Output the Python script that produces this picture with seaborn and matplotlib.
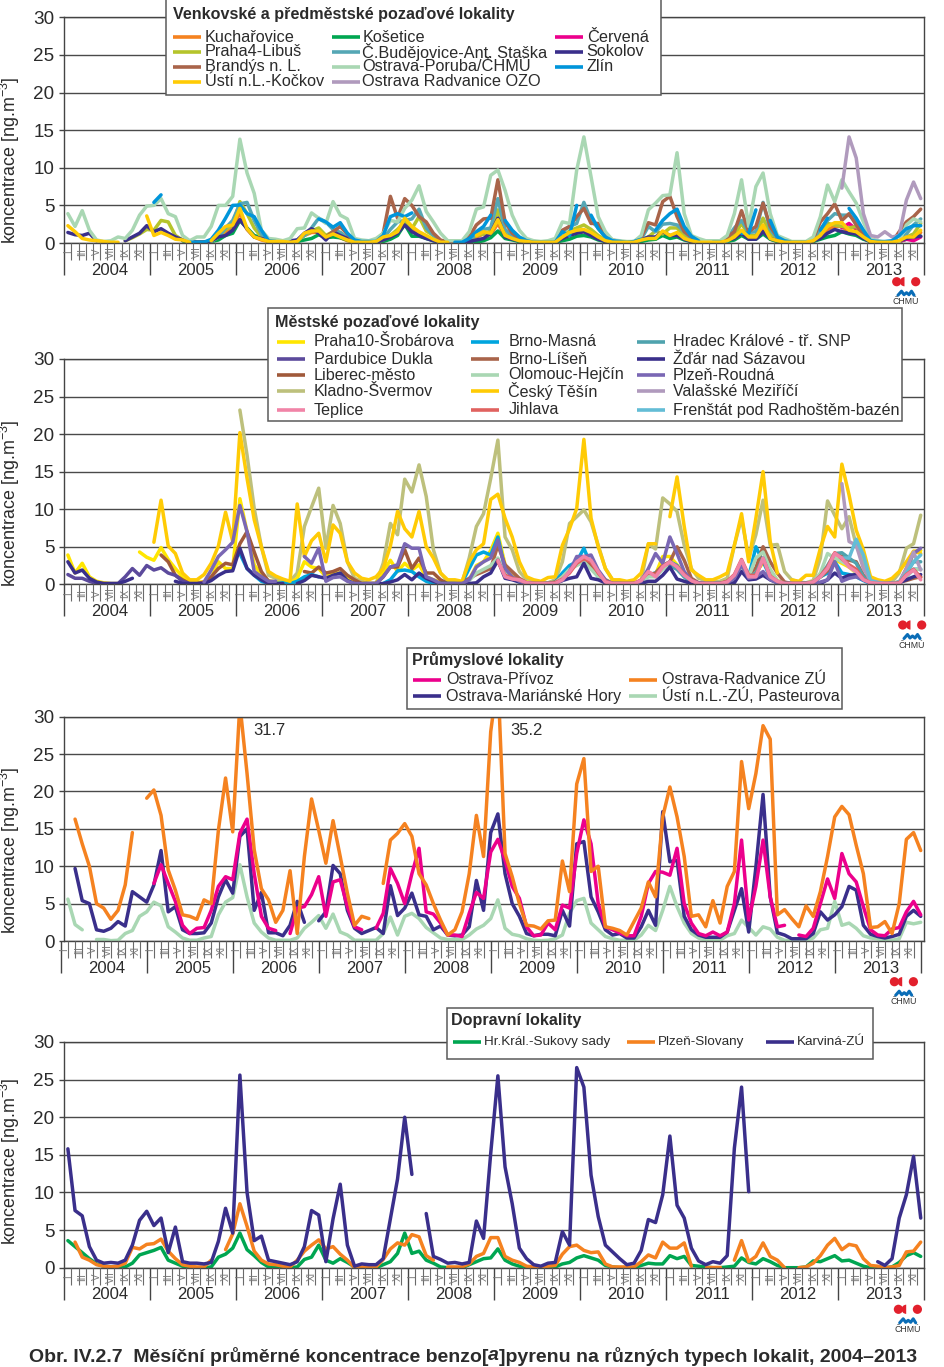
import numpy as np
import pandas as pd
import matplotlib.pyplot as plt
from matplotlib.patches import Rectangle, Circle, Wedge
import seaborn as sns

n = np.nan
no_year = [n] * 12

# ----------------------------- #
# 1. Venkovske a predmestske lokality
# ----------------------------- #
kucharovice = [*no_year,
    n,n,n,n,.3,.1,.1,.1,.3,1,1.5,2,
    4,1.8,.8,.4,.2,.1,.1,.1,.2,1,1.4,1.4,
    .7,1,.7,.3,.1,.1,.1,.1,.6,.8,1.2,3,
    2,1.2,.8,.4,.1,.1,.1,.1,.2,.8,1.2,1.1,
    2.6,.8,.5,.2,.1,.1,.1,.1,.1,.7,1.2,1.4,
    1.5,1.2,.7,.2,.1,.1,.1,.1,.3,.5,.5,1.3,
    .8,1.2,.5,.2,.1,.1,.1,.1,.2,.6,1.4,.6,
    .7,2,.5,.2,.1,.1,.1,.1,.2,.8,1.8,2.2,
    2.2,1.4,1.2,.6,.2,.1,.1,.1,.2,.6,.6,1.4]
kosetice = [*no_year,
    n,n,n,n,.3,.1,.1,.1,.2,.4,1,1.3,
    3,2,1,.7,.2,.1,.1,.1,.2,.4,.6,1.1,
    .7,.8,.7,.4,.1,.1,.1,.1,.2,.5,1,2.5,
    .9,.9,.6,.3,.1,.1,.1,.1,.1,.1,.3,.7,
    1.6,.6,.4,.2,.1,.1,.1,.1,.1,.3,.5,.9,
    1,.8,.4,.2,.1,.1,.1,.1,.2,.4,.5,1,
    .6,.8,.4,.2,.1,.1,.1,.1,.2,.4,1,.5,
    .5,1.2,.5,.2,.1,.1,.1,.1,.2,.5,.8,1,
    1.5,1.2,1,.5,.2,.1,.1,.1,.2,.5,.8,.9]
cervena = [*no_year, *no_year, *no_year, *no_year, *no_year, *no_year,
    *no_year, *no_year, *no_year,
    2,2.6,1.8,1,.3,.1,.1,.1,.2,.5,.3,.8]
praha4 = [n,n,n,n,n,n,n,n,.3,.7,1.2,1.8,
    1.7,3,2.8,1,.4,.2,.1,.1,.2,.8,1.8,2.4,
    5.5,3.9,2,.8,.3,.2,.1,.1,.3,1,1.6,2,
    1,1.5,1.4,.6,.2,.1,.1,.1,.4,1,1.8,2.8,
    1.9,3.5,1.6,1,.3,.1,.1,.1,.3,1,1.2,1.6,
    4.4,1.2,.7,.3,.2,.1,.1,.1,.1,.8,1.6,2,
    2.4,1.8,1,.4,.1,.1,.1,.1,.4,.8,1.6,1.2,
    2,2,1,.4,.2,.1,.1,.1,.4,1,2.6,1,
    1,3.3,1.2,.4,.2,.1,.1,.1,.3,1,2.6,2.4,
    2.2,2,2.2,1,.2,.1,.1,.1,.2,.8,1.2,2.6]
budejovice = [*no_year,
    n,n,n,n,n,n,.1,.1,.2,.8,2,3,
    5.2,5.4,3,1.2,.3,.2,.1,.1,.4,1,2,3.3,
    2.8,1.8,1.4,.7,.2,.1,.1,.1,.6,1.8,2.8,3,
    3.2,4.5,2,1,.3,.1,.1,.1,.4,1.2,1.8,2,
    5.9,1.8,1,.4,.2,.1,.1,.1,.2,1.5,2.2,2.6,
    5.4,3,2,.8,.2,.1,.1,.1,.5,2.2,1.5,2.5,
    2.6,2.4,1.5,.6,.2,.1,.1,.1,.6,2,3,1.4,
    1.5,5.4,1.8,.6,.2,.1,.1,.1,.4,1.8,3,3.9,
    3.7,3.7,2.8,1.4,.3,.1,.1,.1,.3,1.2,2.4,3.2]
sokolov = [1.4,1.1,1,1.3,.3,n,n,n,.3,.8,1.3,2.3,
    1.5,1.9,1.3,.8,.4,.2,.1,.1,.3,.8,1,1.7,
    3.1,1.9,.8,.6,.3,.2,.1,.3,.4,1.3,1.9,1.3,
    .4,1.5,1,.6,.2,.1,.1,.1,.4,.8,1.3,2.4,
    1.5,1,.6,.3,.1,.1,.1,.1,.2,.4,.6,1.3,
    3.3,.8,.5,.3,.2,.1,.1,.1,.1,.6,1,1.3,
    1.5,1,.5,.2,.1,.1,.1,.1,.4,.8,.8,1.5,
    1,1,.5,.2,.1,.1,.1,.1,.4,.6,1.3,.5,
    .5,1.5,.6,.3,.1,.1,.1,.1,.3,.6,1.3,1.8,
    1.5,1.3,1.2,.6,.2,.1,.1,.1,.3,.6,.8,.9]
brandys = [*no_year, *no_year, *no_year,
    .8,1.5,2.2,1.2,.2,.1,.1,.2,1.3,6.2,3.3,5.9,
    5,3.5,2.8,1.3,.4,.1,.1,.2,.8,2.4,3.2,3.3,
    8.4,2.8,1.3,.6,.3,.2,.1,.1,.3,1.7,2.2,3.5,
    4.6,2.6,2.6,1,.4,.2,.1,.1,.8,2.7,2.4,5.5,
    6.2,3.5,1.5,.8,.4,.2,.1,.1,.8,1.5,4.3,1.5,
    2.2,5.3,2.2,.8,.3,.1,.1,.1,.6,2.8,3.9,5.2,
    3,3.9,2.4,1,.2,.1,.1,.1,1.5,2.8,3.5,4.5]
poruba = [3.9,2.2,4.3,1.7,.4,.2,.3,.8,.6,1.7,3.7,4.9,
    5,5.9,3.9,3.5,1,.3,.8,.8,2.2,5,5,6.2,
    13.8,9.3,6.6,1.7,.6,.5,.3,.6,1.9,2,4,3.3,
    2.6,5.5,3.7,3.2,.6,.4,.3,.6,1.3,3,2.8,4.6,
    5.7,7.6,4.2,2.8,1.3,.3,.3,.3,1.5,4.5,4.8,9,
    9.7,7,3.7,1.7,.6,.3,.2,.3,.6,2.8,2.6,9.7,
    14.1,8.8,3.5,1.5,.4,.3,.2,.2,1,4.4,5.3,6.3,
    6.4,12,3.9,1,.6,.3,.3,.3,1,3.9,8.4,2.2,
    7.5,9.3,3.9,1,.6,.2,.2,.2,.8,3.5,7.7,5.5,
    8.4,6.8,5.3,2.8,.6,.3,.1,.1,.2,2.4,3.2,2.8]
zlin = [*no_year,
    5.4,6.4,n,n,n,.1,.1,.1,.5,1.7,3.3,5,
    5.05,3.9,3.5,1.7,.3,.2,n,n,n,n,n,3.2,
    2.8,2.1,2.7,1.3,.4,.2,.2,.2,1,3.5,3.9,3.5,
    4,n,n,n,n,n,.1,.1,.6,1.5,2.2,3.7,
    n,3,1.7,.8,.3,.1,.1,.1,.1,1.5,1,5,
    n,3.7,1.9,.8,.3,.2,.1,.2,.5,n,1.7,3,
    3.9,4.5,2.2,.9,.3,n,.1,.1,.2,n,1.3,1.3,
    4.4,n,3,.8,.3,.1,.1,.1,n,1.7,3.3,n,
    n,4.6,3.3,1.7,.3,.2,.2,.3,1,1.9,2.3,2.3]
usti_kockov = [2.3,1.5,.6,.4,.3,.2,.1,.1,n,n,n,3.6,
    1,1.4,1,.5,.4,.1,n,n,.3,1.3,2.2,2.4,
    4.6,1.9,.8,.5,.2,.2,.2,.1,.2,1.3,1.6,1.6,
    .8,1.2,.8,.4,.1,.1,.1,.2,.8,1,1.5,3.3,
    2.2,1.5,1,.5,.1,.1,n,n,n,1,1.5,1.3,
    3.1,1,.6,.3,.2,.1,.1,.1,.1,.8,1.4,1.7,
    1.8,1.4,.8,.3,.1,.1,.1,.1,.4,.6,.6,1.6,
    1,1.4,.6,.3,.1,.1,.1,.1,.3,.8,1.7,.8,
    .8,2.4,.6,.3,.1,.1,.1,.1,.3,1,2.2,2.7,
    2.7,1.7,1.5,.8,.2,.1,.1,.1,.3,.8,.8,1.7]
radvanice_ozo = [*no_year, *no_year, *no_year, *no_year, *no_year, *no_year,
    *no_year, *no_year, *no_year,
    7.3,14.1,11.3,3.9,1,.8,1.5,.8,1,5.7,8.1,5.9]

# ----------------------------- #
# 2. Mestske lokality
# ----------------------------- #
praha10 = [3.9,1.5,2.8,1,.4,.2,.1,.1,n,n,4.3,3.6,
    3.2,4.9,3.3,2.1,1,.5,.3,.3,.8,3,2.1,2.1,
    11.4,7,2.6,1.2,.5,.3,.2,.2,.8,3,2.3,2.1,
    1,1.5,1.5,.8,.3,.2,.1,.1,1.7,3.2,1.7,2.8,
    1.9,2.6,1,.6,.3,.1,.1,.1,.6,2.5,3,4.5,
    6.8,2.6,1.2,.6,.3,.1,.1,.1,.3,1,2,3,
    3.5,3,1.5,.6,.2,.1,.1,.1,.4,1.5,1.3,3.7,
    3.7,2.6,1.3,.5,.2,.1,.1,.1,.3,1,2.8,1,
    1.5,2.9,1.9,.5,.1,.1,.1,.1,.3,1,1.6,3.3,
    2.8,2.3,1.5,.8,.2,.1,.1,.1,.3,1.5,4.4,4.5]
pardubice = [1.3,.8,.8,.4,.1,.1,.1,.1,1,2.1,1.2,2.5,
    1.9,2.2,1.5,1.2,.4,.1,.1,.1,n,n,n,n,
    *no_year, *no_year, *no_year, *no_year, *no_year, *no_year, *no_year, *no_year]
liberec = [*no_year,
    n,3.9,3,1.2,.6,.1,.1,.3,1,2.1,2.8,2.6,
    5.4,7,4.3,1.7,.4,.2,n,n,n,1.7,1.5,2.3,
    1.5,1.7,2.1,1.2,.6,.1,.1,.1,1,2.3,2.3,4.6,
    2.1,3.5,1.5,1.5,.6,.1,.1,.1,n,n,n,n,
    *no_year, *no_year, *no_year, *no_year, *no_year]
kladno = [*no_year, *no_year,
    23.2,17.2,10.1,5,1.2,.8,.4,.4,1.5,7.7,10.3,12.8,
    4.8,10.5,8.1,3,.8,.4,.1,.1,2.8,8.1,6.6,14,
    12.3,15.9,11.7,4.6,1.5,.4,.2,.2,3.5,7.7,9.4,14.1,
    19.2,6.3,4.6,1.7,.6,.3,.2,.2,.6,3,8.1,9,
    9.9,8.3,5.2,2.1,.6,.3,.2,.2,.5,5.4,4.7,11.5,
    10.7,9.7,5.2,2.1,.8,.5,.3,.4,.8,5.2,8.8,3.5,
    6.6,11.2,5.2,5.3,1.7,.6,.3,.2,.5,3.5,11.1,9.2,
    7.4,9,5.2,3,.8,.5,.3,.3,1.5,4.8,5.4,9.2]
teplice = [*no_year, *no_year, *no_year, *no_year, *no_year,
    3.2,1,.7,.6,.2,.1,.1,.1,.1,.6,1.7,3,
    3.7,3.2,1.7,.3,.1,.1,.1,.1,.5,1.7,1,2.3,
    3,2.3,1.2,.5,.1,.1,.1,.1,.3,1.2,3.2,1,
    1,3.5,1,.4,.1,.1,.1,.1,.3,1,2.1,4.1,
    3.5,2.3,1.7,.6,.2,.1,.1,.1,.1,1.2,1.9,.6]
brno_masna = [*no_year, *no_year,
    4.1,2.1,1.2,.4,.1,.1,.2,.1,.4,1,1.3,1,
    n,n,n,n,n,n,n,n,.1,.6,1.8,1.9,
    1.7,1,.4,.1,.1,.1,.1,.2,2.1,3.9,4.3,3.9,
    6.3,2,.8,.3,.1,.1,.1,.1,.3,1.5,2.5,3,
    4.8,2.5,1,.3,.1,.1,.1,.1,.3,1.3,1.5,2.4,
    3,2.5,1,.3,.1,.1,.1,.1,.3,1,2.8,1,
    5,3,1,.3,.1,.1,.1,.1,.2,1,1.5,3,
    1.5,1.3,1,.5,.1,.1,.1,.1,.3,1,2,2]
brno_lisen = [*no_year, *no_year, *no_year, *no_year,
    n,n,n,n,n,n,n,.2,.8,1.3,1.7,2.1,
    5.2,2.6,1.7,.8,.2,.1,.1,.1,.3,1,1.8,3,
    3.5,2.5,1.5,.5,.1,.1,.1,.1,.4,1.2,1.5,2.5,
    3,5,3.2,.8,.2,.1,.1,.1,.4,1,2.6,1.2,
    2.2,5,3,1.5,.3,.1,.1,.1,.3,1,1.8,4.1,
    3.7,3.2,3,1.2,.3,.1,.1,.1,.3,.5,.8,1]
olomouc = [*no_year, *no_year, *no_year, *no_year,
    n,n,n,n,n,n,n,n,.5,1.5,2,2.5,
    3.5,1.5,.8,.3,.1,.1,.1,.1,.2,1,2,2.5,
    3,2,1,.3,.1,.1,.1,.1,.3,1,1,2,
    2.5,2,1,.3,.1,.1,.1,.1,.2,.8,2,1,
    3.5,4.3,2,.5,.1,.1,.1,.1,.3,1.5,4.1,3.5,
    3,2.5,1.5,.8,.2,.1,.1,.1,.2,1,2,2]
tesin = [*no_year,
    5.6,11.2,5.1,4.1,1.5,.6,.6,1.3,2.8,5.1,9.6,5.7,
    20.2,14.1,8.6,5,1.7,1.1,.7,.4,10.7,3.7,5.8,6.8,
    3,7.9,6.8,3,1.5,.8,.6,1,2.1,5.1,9.7,7.4,
    6.3,9.7,5,3.5,1.5,.6,.6,.4,3,4.6,5.4,11.3,
    12,8.8,6.3,3,1,.6,.4,.9,1,5.2,7.4,10.1,
    19.3,8.8,5,2.1,.6,.6,.4,.6,1.5,5.4,5.4,n,
    9,14.3,7.7,1.9,1.2,.6,.6,1,1.5,5.2,9.4,3,
    8.8,15,5.7,1.5,n,.6,.4,1.2,1.2,4.8,7.7,6.3,
    16,11.9,7.2,4.6,1,.6,.4,.8,1.7,3,4.4,4.1]
jihlava = [*no_year, *no_year, *no_year, *no_year, *no_year,
    3,1.2,.8,.6,.2,.1,.1,.1,.2,.7,1.5,2.8,
    3.4,3,1.5,.4,.1,.1,.1,.1,.6,1.6,1.2,2.4,
    2.9,2.4,1.3,.5,.1,.1,.1,.1,.4,1.3,3.3,1.2,
    1.2,3.3,1.1,.4,.1,.1,.1,.1,.3,1.1,2.3,4.2,
    3.4,2.6,2,.7,.2,.1,.1,.1,.2,1.3,2,.9]
hradec = [*no_year, *no_year, *no_year, *no_year, *no_year, *no_year, *no_year,
    2.5,2,1,.3,.1,.1,.1,.1,.3,1,2.8,1,
    1.5,3.5,1,.3,.1,.1,.1,.1,.3,1,2.5,4.1,
    4.2,3.5,2.8,1,.2,.1,.1,.1,.2,1.5,3,3]
zdar = [3,1.5,1.9,.8,.3,.1,.1,.1,.4,.8,n,n,
    n,n,n,.4,.1,.1,.1,.1,.5,1.2,1.7,1.8,
    4.8,2.1,1.2,.6,.1,.1,.1,n,.1,.5,1.2,1,
    .8,1.2,1.5,.5,.1,.1,.1,.1,.1,.3,.6,1.3,
    .6,1.5,.8,.4,.1,.1,.1,.1,.1,.2,1,1.5,
    3.2,.8,.6,.3,.1,.1,.1,.1,.1,.5,.8,1,
    2.8,.8,.6,.2,.1,.1,.1,.1,.1,.4,.4,1.2,
    2.3,.7,.4,.1,.1,.1,.1,.1,.1,.2,1.7,.6,
    .7,1.2,.6,.2,.1,.1,.1,.1,.1,.1,.6,1.5,
    .8,1.2,1.3,.6,.2,.1,.1,.1,.2,.6,1,1.3]
plzen_roudna = [*no_year,
    n,n,n,n,n,n,n,.3,1.9,3.7,4.6,5.6,
    10.5,7,1.7,1,.4,.4,n,n,n,3.7,2.8,4.8,
    .4,.9,1,.4,.1,.1,.1,.1,1,2.3,2.6,5.4,
    4.8,4.8,1,.6,.1,.1,.1,.1,.6,2.3,3,3.5,
    5.9,2.1,1,.4,.1,.1,.1,.1,.2,.5,1.7,3.7,
    3.7,3.9,1.9,.6,.1,.1,.1,.1,.4,2.1,4.1,2.8,
    6.3,4.1,1.7,.5,.2,.1,.1,.1,.2,.8,2.6,.8,
    1,1.7,.6,.2,.1,.1,.1,.1,.1,.3,.6,3,
    .4,.8,1,.6,.2,.1,.1,.1,.2,2.1,4.1,4.8]
valasske = [*no_year, *no_year, *no_year, *no_year, *no_year, *no_year,
    *no_year, *no_year, *no_year,
    13.4,5.7,5.2,2.1,.5,.3,.1,.1,.3,2.1,4.3,1.9]
frenstat = [*no_year, *no_year, *no_year, *no_year, *no_year, *no_year,
    *no_year, *no_year, *no_year,
    3.5,3.5,6,3.9,.5,.2,.1,.1,.3,1.5,3,3.9]

# ----------------------------- #
# 3. Prumyslove lokality
# ----------------------------- #
privoz = [*no_year,
    7.7,10.2,7.7,5.3,2.1,1,1.7,1.8,4.1,7.3,8.6,8.2,
    14.4,16.3,9,3.3,1.7,1.4,n,1,4.4,4.6,6.2,8.6,
    3.3,7.9,8.2,4.6,1.9,1.5,n,1.7,3.7,9.7,7.7,5,
    9,12.4,3.9,3.6,2.4,.8,.8,.6,3.7,6.5,5.7,11.9,
    13.6,10.8,7.3,5.7,1.9,.7,.8,2.4,1.5,4.8,4.4,11.7,
    16.2,13,5,1.9,1.5,1.1,.7,.7,3.3,7.7,9.3,9.2,
    8.8,12.4,5,2.4,1,.7,1.2,.7,1.2,5,13.5,2.8,
    7.3,13.5,5.9,1.9,2.1,n,.8,.6,1.7,5,8.3,5.7,
    11.7,9,7.9,4.6,1.5,.8,.7,1.6,1.8,3.9,5.3,3.5]
marianske = [n,9.7,5.4,5,1.5,1.3,1.7,2.6,2,6.6,5.9,5.2,
    7.5,12.1,3.9,4.6,1.5,1,1,1.1,2.4,5.9,8.2,6.4,
    14,15,4.1,6.5,1.1,1.1,.7,2.1,5.3,2.5,n,2.7,
    3.9,10.1,9,4.1,1.7,1,1.4,1.8,1,7.4,3.4,4.4,
    6.4,3.5,3.3,1.5,2,.8,.7,.8,1.9,8.1,4.1,14.5,
    17,9,5,3.3,1,.7,.9,.9,.7,4.1,2,13,
    13.3,5.9,3.9,1.5,.8,1,.4,.4,1.9,4.1,2.1,17.3,
    10.6,10.8,3.3,1.5,.8,.5,.5,.5,1.2,4.1,7,1.2,
    9.9,19.6,5.9,1.1,.8,.3,.3,.3,1,3.9,2.8,3.5,
    4.6,7.3,6.8,2.1,.9,.6,.4,.6,.9,3.3,4.1,3.3]
radvanice_zu = [n,16.3,13,10,5,4.4,2.9,4.1,7.5,14.5,n,19.1,
    20.2,16.8,9.5,6.8,3.5,3.3,2.9,5.5,5,14.8,21.8,14.6,
    31.7,22.4,12.2,7,5.5,2.5,4.1,9.4,1,11.3,19,14.8,
    10.4,16.1,11.3,6.4,2.1,3.3,3,n,7.7,13.5,14.4,15.7,
    14,9,7.5,5,2.8,.8,1.5,3.9,9,16.8,11.3,28,
    35.2,11.7,8.6,5,2.1,2,1.6,2.7,2.8,10.7,6.6,21,
    24.4,9.3,10,1.9,1.7,1.4,.8,2.6,4.4,7.9,5.9,16.6,
    20.6,16.6,11.3,3.3,3.5,1.9,5.4,2.4,7.3,9.3,24,17.7,
    22.4,28.8,27,3.5,4.2,3,1.9,4.7,3.3,6.6,11.3,16.6,
    18,16.9,12.8,9,1.8,1.9,2.6,1,5,13.6,14.5,12.1]
usti_zu = [5.6,2.2,1.5,n,.2,.2,.05,.1,1,1.4,3.3,3.9,
    5.2,4.7,1.9,1.2,.4,.1,.1,.4,.6,3.5,5.2,5.8,
    10.2,5.9,2.4,1.2,.4,.1,.1,.1,.4,1.7,2.5,3.4,
    1.7,3.6,1.2,.8,.1,.1,.1,.1,1,3.2,.8,3.3,
    3.7,3,1.8,1.1,.4,.2,.2,.2,.8,1.6,2.1,3,
    5.5,1.7,.9,.7,.3,.1,.05,.1,.3,.8,3.7,5.4,
    5.7,2.4,1.5,.6,.3,.1,.1,.1,.8,2.1,1.4,4.1,
    7.3,4.6,2.4,1,.4,.1,.1,.1,.7,1,2.8,1.8,
    .8,1.9,1.6,.5,.1,.05,.05,.05,.4,1.5,1.7,5.3,
    2.1,2.4,1.7,.7,.4,.3,.1,.1,.3,2.5,2.3,2.5]

# ----------------------------- #
# 4. Dopravni lokality
# ----------------------------- #
sukovy_sady = [3.6,2.8,2,1.2,.5,.2,.1,.1,.1,.6,1.7,2,
    2.3,2.7,1,.6,.2,0,0,0,.1,1.4,1.8,2.6,
    4.6,2.4,1.6,.7,.1,.1,0,0,.1,1.1,1.4,3,
    1,.6,1.2,.7,.1,0,0,0,.4,.8,1.9,4.6,
    1.9,2.2,1,.6,.1,0,0,0,.4,.8,1.2,1.3,
    2.5,1,.5,.2,.1,0,0,0,.1,.5,.7,1.3,
    1.6,1.3,1,.3,.1,0,0,0,.3,.6,.5,.5,
    1.6,1.2,1.5,.3,.2,.1,0,0,.1,.2,1.3,.7,
    .5,1.2,.8,.3,0,0,0,.1,.9,.8,1.2,1.6,
    .9,1,.6,.2,0,0,0,.1,.7,1.6,2,1.5]
plzen_slovany = [n,3.4,1.4,1,.4,.2,.1,.2,.6,2.7,2.5,3.1,
    3.2,3.8,2.2,1.2,.4,.2,.1,.1,1,n,2.4,4.5,
    8.5,5.5,2.2,1,.5,.4,.2,.1,1,2.2,3,3.7,
    2.5,2.8,1.8,1,0,.1,0,.1,1.1,2.5,3.3,3,
    4.4,4.1,1.6,1,n,.1,.1,.1,.5,1.5,1.9,4,
    4,1.5,1,.7,.2,.1,0,.2,.3,1.8,2.8,3,
    2.3,2,2.1,.5,.1,.1,.1,.1,.8,1.7,1.3,3.4,
    2.6,2.6,3.3,.2,n,.1,.1,.1,n,1,3.6,.8,
    1.5,3.3,1.5,1,0,n,0,.1,.6,1.6,3,3.9,
    2.4,3.1,2.9,1.2,.3,.2,0,.1,.3,2.1,2.2,3.4]
karvina = [15.8,7.6,6.9,2.8,1,.6,.7,.6,1,3,6.3,7.5,
    5.6,6.6,2,5.4,.8,.6,.6,.5,.7,3.5,7.9,4.6,
    25.6,10,3.6,4.2,1,.8,.6,.4,.8,2.8,7.6,7,
    .8,6.5,11.1,3,.2,.5,.4,.4,1.2,6.5,11.8,20,
    12.4,n,7.2,1.5,1.1,.6,.7,.5,.7,6.2,3.9,15.2,
    25.5,13.4,8.5,2.6,1.2,.4,.2,.6,.7,4.8,3,26.6,
    24,12.3,6.8,3,2.1,1.2,.4,.6,2.3,6.4,6,9.7,
    17.5,8.3,6.6,2.6,.9,.4,.8,.6,1.6,15.9,24,10.1,
    *no_year,
    n,n,n,n,n,.8,.3,1.2,6.6,9.7,14.8,6.6]

years = [2004, 2005, 2006, 2007, 2008, 2009, 2010, 2011, 2012, 2013]
roman = ["I", "III", "V", "VII", "IX", "XI"]

ORANGE = "#F58220"
GREEN = "#00A651"
PINK = "#EC008C"
OLIVE = "#B5C42B"
TEAL = "#55A7B5"
NAVY = "#3A2F8B"
BROWN = "#A9644A"
MINT = "#A9D7B3"
BLUE = "#0095DA"
GOLD = "#FFCB05"
MAUVE = "#B09ABD"

# name, values, colour; order of the list = draw order
rural = [("Kuchařovice", kucharovice, ORANGE), ("Košetice", kosetice, GREEN),
         ("Červená", cervena, PINK), ("Praha4-Libuš", praha4, OLIVE),
         ("Č.Budějovice-Ant. Staška", budejovice, TEAL), ("Sokolov", sokolov, NAVY),
         ("Brandýs n. L.", brandys, BROWN), ("Ostrava-Poruba/ČHMÚ", poruba, MINT),
         ("Ostrava Radvanice OZO", radvanice_ozo, MAUVE), ("Zlín", zlin, BLUE),
         ("Ústí n.L.-Kočkov", usti_kockov, GOLD)]
urban = [("Kladno-Švermov", kladno, "#BDC07C"), ("Praha10-Šrobárova", praha10, "#FFE600"),
         ("Liberec-město", liberec, "#A0593A"), ("Pardubice Dukla", pardubice, "#5C4A9C"),
         ("Brno-Masná", brno_masna, "#00A5DE"), ("Brno-Líšeň", brno_lisen, "#A9644A"),
         ("Olomouc-Hejčín", olomouc, MINT), ("Hradec Králové - tř. SNP", hradec, "#4FA3AE"),
         ("Český Těšín", tesin, GOLD), ("Žďár nad Sázavou", zdar, NAVY),
         ("Plzeň-Roudná", plzen_roudna, "#7A67B4"), ("Valašské Meziříčí", valasske, MAUVE),
         ("Frenštát pod Radhoštěm-bazén", frenstat, "#63BDD6"), ("Jihlava", jihlava, "#E0625F"),
         ("Teplice", teplice, "#F184A7")]
industrial = [("Ústí n.L.-ZÚ, Pasteurova", usti_zu, MINT), ("Ostrava-Mariánské Hory", marianske, NAVY),
              ("Ostrava-Přívoz", privoz, PINK), ("Ostrava-Radvanice ZÚ", radvanice_zu, ORANGE)]
traffic = [("Hr.Král.-Sukovy sady", sukovy_sady, GREEN), ("Plzeň-Slovany", plzen_slovany, ORANGE),
           ("Karviná-ZÚ", karvina, NAVY)]

sns.set_theme(style="white")
plt.rcParams["font.family"] = ["Liberation Sans", "DejaVu Sans"]
plt.rcParams["mathtext.fontset"] = "custom"
plt.rcParams["mathtext.rm"] = "Liberation Sans"
plt.rcParams["mathtext.default"] = "rm"

W, H = 945, 1367
TXT = "#2b2b2b"
fig = plt.figure(figsize=(W / 100, H / 100), dpi=100)


def draw_panel(series, y_top, y_bot, shift):
    rows = []
    for name, vals, _ in series:
        assert len(vals) == 120, name
        # a new segment after every missing month, so the line really breaks there
        part = pd.DataFrame({"month": np.arange(120) + 0.5, "value": vals, "site": name})
        part["segment"] = name + part["value"].isna().cumsum().astype(str)
        rows.append(part)
    df = pd.concat(rows, ignore_index=True).dropna()

    ax = fig.add_axes([64.3 / W, 1 - y_bot / H, 860 / W, (y_bot - y_top) / H])
    sns.lineplot(data=df, x="month", y="value", hue="site", units="segment", estimator=None,
                 hue_order=[s[0] for s in series], palette={s[0]: s[2] for s in series},
                 lw=2.5, legend=False, ax=ax)
    ax.set_xlim(0, 120)
    ax.set_ylim(0, 30)
    ax.set_xticks([])
    ax.set_xlabel("")
    ax.set_ylabel("")
    ax.set_yticks(range(0, 31, 5))
    ax.tick_params(axis="y", length=3.5, width=1, color="#444444", labelsize=13.6,
                   labelcolor=TXT, pad=3.5, left=True)
    ax.grid(axis="y", color="#4a4a4a", lw=1)
    ax.set_axisbelow(True)
    for sp in ax.spines.values():
        sp.set_color("#444444")
        sp.set_linewidth(1)

    # month / year scale sits in its own thin axes, it is offset on the third panel
    tax = fig.add_axes([(64.3 + shift) / W, 1 - y_bot / H, 860 / W, 1e-5])
    tax.patch.set_visible(False)
    tax.set_xlim(0, 120)
    tax.set_ylim(0, 1)
    tax.set_yticks([])
    for side in ["left", "right", "top", "bottom"]:
        tax.spines[side].set_visible(False)
    tax.set_xticks(range(0, 121, 12))
    tax.set_xticklabels([])
    tax.set_xticks(range(0, 121), minor=True)
    tax.tick_params(axis="x", which="major", length=23, width=1, color="#444444", bottom=True)
    tax.tick_params(axis="x", which="minor", length=12, width=.8, color="#6a6a6a", bottom=True)
    for j, yr in enumerate(years):
        tax.annotate(str(yr), (j * 12 + 6.4, 0), xycoords=("data", "axes fraction"),
                     xytext=(0, -19.5), textcoords="offset points", ha="center", va="center",
                     fontsize=12, color=TXT)
        for k, lab in enumerate(roman):
            tax.annotate(lab, (j * 12 + k * 2 + .5, 0), xycoords=("data", "axes fraction"),
                         xytext=(0, -6.5), textcoords="offset points", ha="center", va="center",
                         rotation=90, fontsize=7, color="#777777")
    return ax


axes = [draw_panel(rural, 17.3, 243, 0),
        draw_panel(urban, 359, 584.3, 0),
        draw_panel(industrial, 716.7, 941, -3.3),
        draw_panel(traffic, 1042, 1267.7, 0)]

# everything else is placed in picture pixels
over = fig.add_axes([0, 0, 1, 1], zorder=10)
over.set_xlim(0, W)
over.set_ylim(H, 0)
over.axis("off")

for y_mid in [160, 503, 850, 1161]:
    over.text(10, y_mid, "koncentrace [ng.m$^{-3}$]", rotation=90, ha="center", va="center",
              fontsize=12.9, color=TXT)

over.text(269, 730.7, "31.7", ha="center", va="center", fontsize=12, color=TXT)
over.text(526.7, 730.7, "35.2", ha="center", va="center", fontsize=12, color=TXT)


def legend_box(x0, y0, x1, y1, title, title_xy, entries, size):
    over.add_patch(Rectangle((x0, y0), x1 - x0, y1 - y0, fc="white", ec="#5a5a5a", lw=1.1))
    over.text(title_xy[0], title_xy[1], title, fontweight="bold", fontsize=11.6, color=TXT,
              ha="left", va="center")
    for name, color, lx, y, tx in entries:
        over.plot([lx, lx + 28], [y, y], color=color, lw=2.6, solid_capstyle="butt")
        over.text(tx, y, name, fontsize=size, color=TXT, ha="left", va="center")


legend_box(165.5, -2, 661, 95, "Venkovské a předměstské pozaďové lokality", (173, 15), [
    ("Kuchařovice", ORANGE, 173.3, 37.3, 205), ("Košetice", GREEN, 331.7, 37.3, 362.5), ("Červená", PINK, 555, 37.3, 586.7),
    ("Praha4-Libuš", OLIVE, 173.3, 51.7, 205), ("Č.Budějovice-Ant. Staška", TEAL, 331.7, 51.7, 362.5), ("Sokolov", NAVY, 555, 51.7, 586.7),
    ("Brandýs n. L.", BROWN, 173.3, 66.7, 205), ("Ostrava-Poruba/ČHMÚ", MINT, 331.7, 66.7, 362.5), ("Zlín", BLUE, 555, 66.7, 586.7),
    ("Ústí n.L.-Kočkov", GOLD, 173.3, 81.7, 205), ("Ostrava Radvanice OZO", MAUVE, 331.7, 81.7, 362.5)], 11.7)
legend_box(268, 307.7, 902.3, 421, "Městské pozaďové lokality", (275, 322), [
    ("Praha10-Šrobárova", "#FFE600", 277, 341.7, 314), ("Brno-Masná", "#00A5DE", 471, 341.7, 508.3), ("Hradec Králové - tř. SNP", "#4FA3AE", 636.7, 341.7, 673),
    ("Pardubice Dukla", "#5C4A9C", 277, 359.3, 314), ("Brno-Líšeň", "#A9644A", 471, 359.3, 508.3), ("Žďár nad Sázavou", NAVY, 636.7, 359.3, 673),
    ("Liberec-město", "#A0593A", 277, 375, 314), ("Olomouc-Hejčín", MINT, 471, 375, 508.3), ("Plzeň-Roudná", "#7A67B4", 636.7, 375, 673),
    ("Kladno-Švermov", "#BDC07C", 277, 391, 314), ("Český Těšín", GOLD, 471, 391, 508.3), ("Valašské Meziříčí", MAUVE, 636.7, 391, 673),
    ("Teplice", "#F184A7", 277, 410, 314), ("Jihlava", "#E0625F", 471, 410, 508.3), ("Frenštát pod Radhoštěm-bazén", "#63BDD6", 636.7, 410, 673)], 11.6)
legend_box(407.3, 648.3, 842.3, 709, "Průmyslové lokality", (412, 660), [
    ("Ostrava-Přívoz", PINK, 412.7, 680, 446), ("Ostrava-Radvanice ZÚ", ORANGE, 629.3, 680, 661.7),
    ("Ostrava-Mariánské Hory", NAVY, 412.7, 696, 446), ("Ústí n.L.-ZÚ, Pasteurova", MINT, 629.3, 696, 661.7)], 11.6)
legend_box(446.7, 1008.3, 873.3, 1059.3, "Dopravní lokality", (451, 1020), [
    ("Hr.Král.-Sukovy sady", GREEN, 452.7, 1042, 484.3), ("Plzeň-Slovany", ORANGE, 626.7, 1042, 658.3),
    ("Karviná-ZÚ", NAVY, 766, 1042, 797.3)], 9.7)


def logo(cx, cy):
    over.add_patch(Circle((cx - 9.3, cy), 4.6, color="#E2202C", lw=0))
    over.add_patch(Wedge((cx - 1.5, cy), 4.6, 90, 270, color="#E2202C", lw=0))
    over.add_patch(Circle((cx + 9.7, cy), 4.6, color="#E2202C", lw=0))
    over.plot(cx + np.array([-8, -4.5, -2, 0.5, 3, 5.5, 8]),
              cy + np.array([13.5, 9.5, 13, 11, 13, 9.5, 13.5]), color="#0A6DB7", lw=2.2)
    over.text(cx, cy + 20, "ČHMÚ", ha="center", va="center", fontsize=6.3, color="#333333")


logo(906, 281.7)
logo(912, 625)
logo(903.7, 981.7)
logo(907.7, 1309.3)

# caption has an italic letter inside, so it is put together from pieces
rend = fig.canvas.get_renderer()
cap_x = 29
for piece, style in [("Obr. IV.2.7  Měsíční průměrné koncentrace benzo[", "normal"), ("a", "italic"),
                     ("]pyrenu na různých typech lokalit, 2004–2013", "normal")]:
    t = over.text(cap_x, 1356, piece, fontweight="bold", fontstyle=style, fontsize=14,
                  color=TXT, ha="left", va="center")
    cap_x += t.get_window_extent(rend).width

fig.savefig("out.png", dpi=100)
